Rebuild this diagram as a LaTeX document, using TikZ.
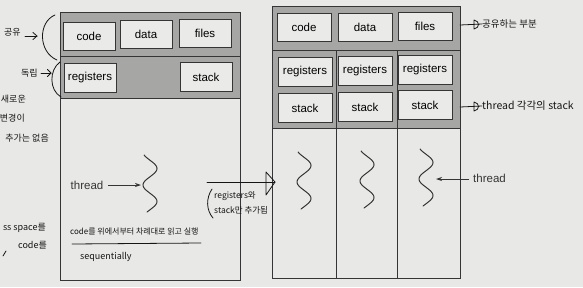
\documentclass[tikz,border=0pt]{standalone}
\usepackage{fontspec}
\setmainfont{Liberation Sans}
\newfontfamily\hand{Noto Sans CJK KR}
\usetikzlibrary{arrows.meta}
\definecolor{paper}{HTML}{E8E8E6}
\definecolor{bandfill}{HTML}{A6A6A4}
\definecolor{boxfill}{HTML}{EAEAE8}
\definecolor{ink}{HTML}{353535}
\definecolor{pen}{HTML}{161616}
\tikzset{
  frame/.style={draw=ink, line width=0.8pt},
  part/.style={draw=ink, fill=boxfill, line width=0.8pt, minimum width=52pt,
    minimum height=28pt, inner sep=0pt, font=\fontsize{11.5}{12}\selectfont},
  label/.style={inner sep=0pt, text=ink, font=\fontsize{11.5}{12}\selectfont},
  note/.style={inner sep=0pt, text=pen, font=\hand\fontsize{9}{10}\selectfont},
  bignote/.style={note, font=\hand\fontsize{9.5}{10}\selectfont},
  pointer/.style={draw=ink, line width=0.8pt, -{Stealth[length=6pt,width=4pt]}},
  penline/.style={draw=pen, line width=0.8pt, line cap=round, line join=round},
  squiggle/.pic={
    \draw[ink, line width=1pt, line cap=round]
      plot[domain=-30:27, samples=60, smooth] ({-7*cos(\x*180/16.5)},{\x});
  }
}
\begin{document}
\begin{tikzpicture}[x=1pt,y=-1pt]
\fill[paper] (0,0) rectangle (583,287);
\useasboundingbox (0,0) rectangle (583,287);

% ---------- single-threaded process ----------
\fill[bandfill] (60,12) rectangle (240,98);
\draw[frame] (60,56) -- (240,56);
\draw[frame] (60,98) -- (240,98);
\draw[frame] (60,12) rectangle (240,280);
\node[part] (lcode)  at (89,36)  {code};
\node[part] (ldata)  at (146,34) {data};
\node[part] (lfiles) at (205,33) {files};
\node[part, minimum height=29pt] (lregs)  at (90,78)  {registers};
\node[part, minimum height=29pt] (lstack) at (206,77) {stack};
\pic at (150,185) {squiggle};
\coordinate (lthread) at (141,185);
\node[label] (lthreadtxt) at (87,185) {thread};
\coordinate (lthreadtail) at (108,185);
\draw[pointer] (lthreadtail) -- (lthread);

% ---------- multithreaded process ----------
\fill[bandfill] (272,6) rectangle (460,128);
\draw[frame] (272,50) -- (460,50);
\draw[frame] (272,128) -- (460,128);
\draw[frame] (336,50) -- (336,278);
\draw[frame] (397,50) -- (397,278);
\draw[frame] (272,6) rectangle (460,278);
\node[part, minimum width=54pt] (rcode)  at (304,27)   {code};
\node[part, minimum width=54pt] (rdata)  at (365,27)   {data};
\node[part, minimum width=54pt] (rfiles) at (425,26)   {files};
\node[part, minimum width=54pt, minimum height=29pt] (rregsa) at (305,72) {registers};
\node[part, minimum width=54pt, minimum height=29pt] (rregsb) at (365,71) {registers};
\node[part, minimum width=54pt, minimum height=29pt] (rregsc) at (425,70) {registers};
\node[part, minimum width=54pt, minimum height=29pt] (rstacka) at (305,108) {stack};
\node[part, minimum width=54pt, minimum height=29pt] (rstackb) at (365,107) {stack};
\node[part, minimum width=54pt, minimum height=29pt] (rstackc) at (425,105) {stack};
\pic at (304,182) {squiggle};
\pic at (367,181) {squiggle};
\pic at (426,179) {squiggle};
\coordinate (rthread) at (436,179);
\node[label, anchor=west] (rthreadtxt) at (473,178) {thread};
\coordinate (rthreadtail) at (469,179);
\draw[pointer] (rthreadtail) -- (rthread);

% ---------- pen notes ----------
% braces beside the shared and private bands
\draw[penline] (55,15) .. controls (38,22) and (38,52) .. (57,60);
\draw[penline] (60,62) .. controls (49,70) and (49,90) .. (61,97);
\node[note, anchor=west] (nshare) at (4,32) {공유};
\coordinate (nsharetail) at (25,36);
\coordinate (nsharetip) at (37,36);
\draw[penline] (nsharetail) -- (nsharetip);
\draw[penline] (33,32.5) -- (nsharetip) -- (33,39.5);
\node[note, anchor=west] (nown) at (21,73) {독립};
\coordinate (nowntail) at (41,73);
\coordinate (nowntip) at (51,73);
\draw[penline] (nowntail) -- (nowntip);
\draw[penline] (47.5,69.5) -- (nowntip) -- (47.5,76.5);
\node[note, anchor=east] (nleft1) at (26,99)  {새로운};
\node[note, anchor=east] (nleft2) at (25,118) {변경이};
\node[note, anchor=east] (nleft3) at (49,138) {추가는 없음};
\node[note, anchor=east] (nleft4) at (46,228) {ss space를};
\node[note, anchor=east] (nleft5) at (47,245) {code를};
\draw[penline] (3,256) -- (6,251);

% reading order inside the single thread
\node[note, anchor=west, font=\hand\fontsize{8}{9}\selectfont] (nseq) at (70,232) {code를 위에서부터 차례대로 읽고 실행};
\coordinate (useqa) at (72,244);
\coordinate (useqb) at (201,243);
\draw[penline] (useqa) -- (useqb);
\node[note, anchor=west] (nseqen) at (80,257) {sequentially};

% from one thread to many
\coordinate (growa) at (207,182);
\coordinate (growb) at (275,182);
\draw[penline] (growa) -- (growb);
\draw[penline] (266,172) -- (growb) -- (266,195) -- cycle;
\draw[penline] (212,189) .. controls (206,198) and (206,210) .. (213,218);
\node[note, anchor=west, font=\hand\fontsize{8.5}{9}\selectfont] (ngrow1) at (214,196) {registers와};
\node[note, anchor=west, font=\hand\fontsize{8.5}{9}\selectfont] (ngrow2) at (214,210) {stack만 추가됨};

% remarks to the right of the threads
\coordinate (sharedfrom) at (460,25);
\node[bignote, anchor=west] (nshared) at (482,24) {공유하는 부분};
\draw[penline] (sharedfrom) -- (nshared.west);
\draw[penline] (474,20) -- (474,29) .. controls (480,28) and (480,21) .. (474,20);
\coordinate (ownfrom) at (460,107);
\node[bignote, anchor=west, font=\hand\fontsize{10.5}{11}\selectfont] (nownstack) at (482,106) {thread 각각의 stack};
\draw[penline] (ownfrom) -- (nownstack.west);
\draw[penline] (474,102) -- (474,111) .. controls (480,110) and (480,103) .. (474,102);
\end{tikzpicture}
\end{document}
